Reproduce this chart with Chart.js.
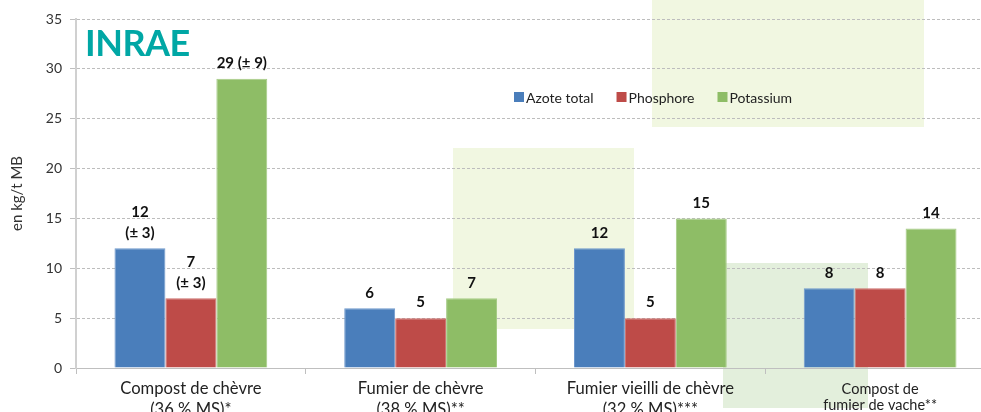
<!DOCTYPE html>
<html><head><meta charset="utf-8">
<script src="https://cdn.jsdelivr.net/npm/chart.js@4.4.1/dist/chart.umd.min.js"></script>
<style>
html,body{margin:0;padding:0;background:#fff;overflow:hidden;}
#wrap{position:relative;width:1000px;height:412px;}
#logo{position:absolute;left:85px;top:22px;font-family:Lato,"Open Sans",sans-serif;font-weight:700;font-size:36px;line-height:40px;color:#00a7a5;letter-spacing:-0.5px;}
</style></head><body>
<div id="wrap"><canvas id="c" width="1000" height="412"></canvas><div id="logo">INRAE</div></div>
<script>
// ---- data ----
const categories = [
  ["Compost de chèvre", "(36 % MS)*"],
  ["Fumier de chèvre", "(38 % MS)**"],
  ["Fumier vieilli de chèvre", "(32 % MS)***"],
  ["Compost de", "fumier de vache**"]
];
const seriesNames = ["Azote total", "Phosphore", "Potassium"];
const azote = [12, 6, 12, 8];
const phosphore = [7, 5, 5, 8];
const potassium = [29, 7, 15, 14];
const azoteLabels = [["12", "(± 3)"], ["6"], ["12"], ["8"]];
const phosphoreLabels = [["7", "(± 3)"], ["5"], ["5"], ["8"]];
const potassiumLabels = [["29 (± 9)"], ["7"], ["15"], ["14"]];
const yTicks = [0, 5, 10, 15, 20, 25, 30, 35];
const yTitle = "en kg/t MB";

// ---- styling ----
const FONT = "Lato, 'Open Sans', sans-serif";
const colors = ["#4a7ebb", "#be4b48", "#8ebd66"];
const borderColors = ["#6f98cc", "#cc6e6b", "#a6cc86"];
const decoRects = [
  {x: 652, y: 0, w: 272, h: 127, c: "#f1f7e1"},
  {x: 453, y: 148, w: 181, h: 181, c: "#f1f7e1"},
  {x: 723, y: 263, w: 145, h: 145, c: "#e3efdc"}
];

const labelSets = [azoteLabels, phosphoreLabels, potassiumLabels];

const decoPlugin = {
  id: "deco",
  beforeDraw(chart) {
    const ctx = chart.ctx;
    ctx.save();
    ctx.fillStyle = "#fff";
    ctx.fillRect(0, 0, chart.width, chart.height);
    decoRects.forEach(r => { ctx.fillStyle = r.c; ctx.fillRect(r.x, r.y, r.w, r.h); });
    ctx.restore();
  },
  afterDraw(chart) {
    const ctx = chart.ctx;
    ctx.save();
    // value labels
    ctx.fillStyle = "#111";
    ctx.textAlign = "center";
    ctx.textBaseline = "middle";
    ctx.font = "bold 15px " + FONT;
    chart.data.datasets.forEach((ds, di) => {
      const meta = chart.getDatasetMeta(di);
      meta.data.forEach((bar, i) => {
        const lines = labelSets[di][i];
        const n = lines.length;
        lines.forEach((t, li) => {
          ctx.fillText(t, bar.x, bar.y - 15.5 - (n - 1 - li) * 21);
        });
      });
    });
    // category labels
    const xs = chart.scales.x;
    ctx.fillStyle = "#222";
    ctx.textBaseline = "alphabetic";
    categories.forEach((lines, i) => {
      const x = xs.getPixelForValue(i);
      const small = i === 3;
      ctx.font = (small ? "14.5px " : "16.6px ") + FONT;
      const base = 394, step = small ? 16 : 21;
      lines.forEach((t, li) => ctx.fillText(t, x, base + li * step));
    });
    // legend
    ctx.font = "14px " + FONT;
    ctx.textAlign = "left";
    ctx.textBaseline = "middle";
    let lx = 514;
    const ly = 97;
    chart.data.datasets.forEach((ds, di) => {
      ctx.fillStyle = ds.backgroundColor;
      ctx.fillRect(lx, ly - 5, 10, 10);
      ctx.fillStyle = "#222";
      ctx.fillText(ds.label, lx + 12, ly + 1);
      lx += 12 + ctx.measureText(ds.label).width + 23;
    });
    ctx.restore();
  }
};

new Chart(document.getElementById("c"), {
  type: "bar",
  data: {
    labels: categories,
    datasets: [azote, phosphore, potassium].map((d, i) => ({
      label: seriesNames[i],
      data: d,
      backgroundColor: colors[i],
      borderColor: borderColors[i],
      borderWidth: 1,
      categoryPercentage: 0.665,
      barPercentage: 1
    }))
  },
  options: {
    responsive: false,
    animation: false,
    events: [],
    layout: {padding: {top: 19, right: 5, left: 0, bottom: 0}},
    plugins: {legend: {display: false}, tooltip: {enabled: false}},
    scales: {
      x: {
        offset: true,
        grid: {offset: true, drawOnChartArea: false, drawTicks: true, tickLength: 6, color: "#bfbfbf", tickColor: "#bfbfbf"},
        border: {color: "#bfbfbf", width: 1},
        ticks: {display: false},
        afterFit(s) { s.height = 44; }
      },
      y: {
        min: 0, max: 35,
        afterBuildTicks(s) { s.ticks = yTicks.map(v => ({value: v})); },
        ticks: {font: {family: FONT, size: 14}, color: "#333", padding: 8},
        grid: {color: "#bdbdbd", tickColor: "#bfbfbf", tickLength: 6, lineWidth: 1},
        border: {color: "#d0d0d0", width: 2, dash: [3, 2]},
        title: {display: true, text: yTitle, font: {family: FONT, size: 15}, color: "#333", padding: {top: 8, bottom: 0}},
        afterFit(s) { s.width = 76; }
      }
    }
  },
  plugins: [decoPlugin]
});
</script>
</body></html>
